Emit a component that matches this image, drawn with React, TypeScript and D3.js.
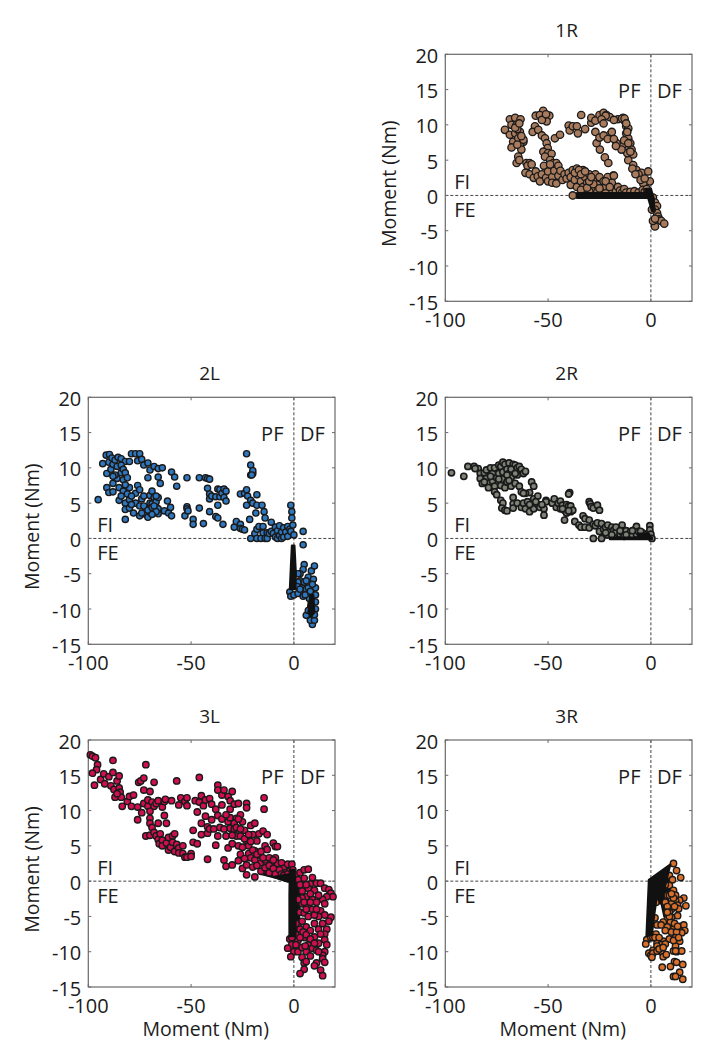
import React from "react";
import * as d3 from "d3";

type P = [number, number];

const xTicks = [-100, -50, 0];
const yTicks = [-15, -10, -5, 0, 5, 10, 15, 20];

const pts1R: P[] = [
[-71,9.3],[-68.6,10.8],[-66,11],[-63.4,10.8],[-67.8,10],[-65.3,10],[-68.6,8.6],[-66,8.8],[-63.7,9],[-67,7.6],[-64.5,8.1],[-62,7.6],[-67.8,6.8],[-63.7,7],[-63,6.5],[-64.5,5.5],[-65.3,4.6],[-64,5],[-60.5,4.6],[-59,4.6],[-62,7.9],[-65,9.4],[-66,9.6],[-64,10.2],[-63,8.4],[-65,7.2],
[-56,11.3],[-52.4,12],[-54,11.4],[-49.4,11.3],[-50.7,10.5],[-53,10.7],[-51,11.5],[-56.4,9.8],[-57.5,9],[-54.8,9.3],[-53,8.5],[-51.5,8.1],[-50.7,7.4],[-50.2,6.7],[-52.3,6.2],[-50,6],[-48.3,5.9],[-51.5,5.5],[-49,5],[-47.5,4.6],[-46,4.6],[-46.7,8.1],[-44.2,8.6],
[-33.9,11.4],[-40,9.9],[-39.5,9.2],[-38,9.8],[-36,9.8],[-35.5,8.8],[-32,9.4],[-29,10.3],[-29,11],[-27,10.6],[-25,11.4],[-23,11.7],[-21.6,11.4],[-20,11.1],[-16,10.8],[-13.5,11],[-12.6,10.5],[-12,9.8],[-12,8.8],[-11,8.1],[-10,7.4],[-9.4,6.5],[-8.6,5.8],[-11,5],[-8.6,4.3],[-7,3.6],[-4.5,3.2],[-1.3,3.4],[-0.5,2],[-3.7,1.7],[-12.5,6.5],[-11.5,6],[-14,7],[-13,7.8],[-11,9.5],[-14,10.9],[-12.8,10.9],[-12,10.2],[-11.5,9],[-11,7.4],[-10,6.2],[-22,11.3],[-24,10.8],[-18,10.7],
[-23,10.2],[-20,8.6],[-19,9],[-16.7,7.4],[-14.3,6.5],[-26.4,7.4],[-24.8,6.5],[-22.4,5.4],[-20.7,4.6],[-18.3,2.8],[-27,9],[-25,8.2],[-23,8.5],[-21,8],[-18,8],[-17,7],[-6,3],[-5,2.2],[-3,2.4],[-9,3.8],[-7.5,3],
[-60,4.2],[-58,4.4],[-61,3.2],[-59,3],[-57,2.5],[-56,3.4],[-55,2.7],[-54,2],[-53,3],[-52,4.2],[-51,2.5],[-50,3.4],[-50,2],[-49,4.4],[-48,2.6],[-48,1.8],[-47,3.5],[-46,1.7],[-45,2.8],[-45,4.2],[-44,3.5],[-43,2.2],[-42,3],[-41,2.4],[-40,3.2],[-39,1.5],[-39,2.6],[-38,3.6],[-37,2.2],[-36,3.8],[-36,1.2],[-35,2.8],[-34,2],[-33,3.6],[-33,1.2],[-32,2.6],[-31,1.8],[-30,3],[-29,1],[-28,2.2],[-27,3],[-26,1.5],[-25,2.6],[-24,0.8],[-23,2],[-22,1.2],[-21,2.6],[-20,0.5],[-19,1.8],[-18,2.8],[-17,0.6],[-16,1.2],[-15,0.7],[-14,0.4],[-13,0.9],[-12,0.4],[-10,0.5],[-8,0.6],[-6,0.4],[-4,0.8],[-3,0.5],[-2,0.9],
[-38,0],[-30,0.6],[-26,0.5],[-22,0.3],[-34,0.8],[-31,1.1],[-28,1.6],[-25,1],[-22,2],[-20,1.2],[-37,3.2],[-35,3.6],[-34,3],[-32,3.4],[-30,2],[-29,2.6],
[1,-0.3],[2,-1],[3,-1.5],[2,-2],[3,-2.5],[3.5,-3],[4,-3.4],[5,-3.6],[6.5,-4],[2,-4.4],[1,-3.6],[2,-3.3],[0.5,-2],
];
const under1R: P[][] = [
[[-38,3.4],[-33,4],[-29,2.8],[-32,1.4],[-38,1.8]],
];
const core1R: P[][] = [
[[-36,0.35],[-1,0.35],[-1,-0.35],[-36,-0.35]],
[[-3,0.9],[0,1],[1.5,-0.5],[1.5,-2.2],[0.5,-2.2],[-1.5,-0.2]],
];

const pts2L: P[] = [
[-95.2,5.5],[-93,10.6],[-91.3,11.8],[-89.7,11.9],[-90,10.8],[-88.5,11.4],[-91,9.2],[-89,9.8],[-88,10.5],[-87,11.1],[-85.5,11.5],[-84,11.3],[-82,10.9],[-80,10.9],[-79,12],[-77,12],[-75,12],[-76,11],[-74,11.2],[-73,10.4],[-71,10.7],[-70,9.7],[-68,10.2],[-66,9.9],[-64,10],[-71,8.6],[-66,8.7],[-65,7.8],
[-91,7.2],[-90,6.5],[-88,7.8],[-88,6.6],[-86,8.5],[-85,7.2],[-85,5.4],[-84,9.3],[-83,8.3],[-83,6.7],[-82,5],[-82,4.1],[-82,2.7],[-81,6.3],[-80,7.2],[-80,5.5],[-80,4.3],[-78,3.6],[-77,5],[-77,6.4],[-76,7.5],[-75,6.9],[-75,4.6],[-75,3.2],[-74,5.6],[-73,6],[-72,4.2],[-72,3.4],[-71,3],[-70,5],[-70,6.1],[-70,3.7],[-69,6.7],[-69,4.9],[-68,3.9],[-68,5.8],[-67,4.5],[-67,5.2],[-66,4.2],[-66,3.5],[-66,5.8],[-67,6],[-63,3.9],[-61.5,5.3],[-61,3.6],[-60,4.4],[-59.5,3.2],
[-86,10.2],[-84,10.4],[-83,9.8],[-82,9.3],[-82,7.6],[-81,8.6],[-84,6],[-79,6],[-79,4.8],[-73,4.6],[-71,4],[-69,4.4],[-68,4.6],[-67,3.8],[-69,3.4],[-74,3.6],[-87,9],[-88,8.8],
[-59.5,9.4],[-58,8.7],[-57,7.4],[-52,8.6],[-46,8.6],[-43,8.6],[-42,8.5],[-41,8.4],[-42,7.1],[-41,6.3],[-41,5.6],[-40,6],[-38,5.9],[-37,7],[-36,6.9],[-36,5.9],[-37,4.7],[-35,6.4],[-34,7],[-33,6.7],[-34,5.8],[-33,5.3],[-46,4.3],[-41,3.8],[-38,3.1],[-37,2.9],[-44,2.1],[-34.5,2],[-52,4.5],[-52,4.2],[-53,3.2],[-49,2.7],[-49,2],[-51.5,3.9],
[-29,1.6],[-28,2.4],[-26,2],[-26,1.4],[-25,1.3],[-24,1.2],[-26,6.3],[-24,6.4],[-23,6.9],[-22.5,6],[-23,4.7],[-21,5.4],[-20,5],[-18,4.7],[-18,6.2],[-15.5,4.7],[-14.5,3.8],[-14,2.9],[-18.5,3.6],[-21.5,2.7],[-23,12],[-21,10.4],[-21,9],[-20,9.2],[-20,9.6],[-20.5,9],
[-21,0],[-19,0.7],[-18,1.3],[-18,0],[-17,1.7],[-16,0],[-15,0.8],[-15,1.7],[-14,0],[-13,0.8],[-13,0],[-12,0.7],[-11,2.3],[-11,1],[-10,0.7],[-9,1.6],[-9,0.2],[-8,1.1],[-8,0],[-7,1.8],[-7,0.4],[-6,0.9],[-6,0],[-5,1.5],[-5,0.2],[-4,0.9],[-3,1.7],[-3,0.3],[-2,1.3],[-1.5,1],
[-1.5,4.7],[-1,3.8],[-1,2.9],[-0.5,1.9],[0,0.5],[4.5,1],[4.5,-0.9],
[-2,-7.6],[-1.5,-8.2],[0,-8],[2,-7.8],[5,-3.7],[4.5,-4.4],[3,-5],[3,-6],[4,-7],[2,-6.2],[5,-6.2],[6,-7.2],[4.5,-8.2],[7,-5.5],[8.5,-4.6],[9.5,-5.8],[10,-3.9],[10.5,-7],[10.5,-8],[9,-12.2],[8,-11.6],[10,-11.6],[6,-10.9],[7.5,-8.5],
[2,-5],[1.5,-6.8],[3,-7.2],[6,-6],[5.5,-8],[7,-7],[8,-7.5],[9,-6.5],[10.5,-9],[10.5,-10],[10,-10.8],[7,-10.2],
];
const under2L: P[][] = [
[[-8,1.2],[-2,1.4],[-0.5,0.5],[-8,0.2]],
[[8,-7],[10,-6.5],[10,-11],[8.5,-11.5],[6.5,-10.5]],
];
const core2L: P[][] = [
[[-1,-1],[0.3,-1],[1,-5],[0.8,-7.2],[-2,-7.2],[-1.5,-4]],
[[8,-8],[9.5,-8],[10,-10.5],[8.5,-11],[7,-10.5]],
];

const pts2R: P[] = [
[-97,9.3],[-91,8.8],[-89,10.2],[-86,10.2],[-84,9.9],[-85.5,9.9],[-83,9.2],[-83,8.5],[-82,7.8],[-81,9.3],[-80,8.5],[-80,9.7],[-79,7.8],[-79,7.2],[-78,10],[-77,9.2],[-77,8.1],[-76,10],[-76,7.4],[-76,6.6],[-75,8.6],[-75,6.2],[-74,10.4],[-74,9.2],[-73,10.2],[-73,7.5],[-72,10.8],[-72,9.4],[-72,8.4],[-71,7.2],[-71,10.5],[-70,9.8],[-70,8],[-69,10.7],[-69,9.2],[-68,7.4],[-68,8.6],[-67,10.5],[-67,9.8],[-66,7.8],[-66,10.4],[-65,9],[-65,10],[-64,7.4],[-64,10.2],[-63,9.8],[-62,9.2],[-61,9.5],
[-73,5.4],[-72,5],[-72.5,4.3],[-71,4],[-70,3.9],[-67,5.8],[-67,4.9],[-67,4.3],[-65,5],[-63,4.4],[-62,5],[-61,4.2],[-60,5.2],[-59,3.8],[-59,6.5],[-58,8],[-57,7.4],[-57,5.6],[-57,4.2],[-55,6],[-55,4.8],[-54,4.4],[-63,6.6],[-61,6.4],[-59,4.8],[-52,4.2],[-52,3.3],[-51,5.4],[-51,5.2],[-48,5],[-47,5.6],[-46,4.4],[-45,5],[-44,4.2],[-44,5.3],[-43,4.7],[-42,4],[-42,2.6],[-41,4.8],[-41,3.6],[-40,4.6],[-39.5,6.5],[-40,6.3],[-39,3.8],[-39,4.6],[-38,4],[-37,2.4],[-35,1.9],[-34,1.6],[-33,3.2],[-32,2.8],[-32,1.6],[-30,2.6],[-30,1.5],[-28,2],
[-70,9],[-68,9.8],[-69,8.2],[-66,9.2],[-74,8.4],[-78,8.8],[-81,8],[-62,6.4],[-56,5.2],[-53,4.8],[-43,4.2],[-40,3.9],
[-30,5.2],[-29.5,4.9],[-29,4.5],[-28,4.3],[-26,4.7],[-25,4],[-28,0],[-27,1.8],[-26,2.2],[-25,1],[-24,0],[-24,2.1],[-23,1.3],[-22,1.6],[-21,0.5],[-21,1.9],[-20,1],[-19,1.6],[-18,0.4],[-18,1.2],[-17,0.9],[-16,1.5],[-15,0.6],[-14,1.9],[-14,0.9],[-13,0.3],[-12,1.1],[-11,0.5],[-10,0.9],[-9,0.4],[-8,1.2],[-7,1.7],[-7,0.6],[-6,1],[-5,0.4],[-4,0.8],[-3,0.5],[-0.5,1.8],[-0.5,1.2],[0,0.6],[0.5,0],
[-22,0.8],[-19,0.5],[-17,1.6],[-15,1.1],[-12,0.5],[-9,1.1],[-5,1],
];
const under2R: P[][] = [
[[-76,10],[-66,10.6],[-62,9.6],[-68,8.6],[-76,8.8]],
[[-24,1.5],[-18,1.2],[-10,1],[-10,0],[-24,0.6]],
];
const core2R: P[][] = [
[[-20,0.15],[0.5,0.15],[0.5,-0.1],[-20,-0.1]],
[[-6,0.7],[-1,0.7],[0.3,0],[-6,0]],
];

const pts3L: P[] = [
[-99,17.9],[-98,17.7],[-96.5,17.5],[-95.5,16.5],[-96,15.8],[-98,15.3],[-97,13.6],[-94,14.4],[-92.5,15.2],[-92,13.8],[-90,14.8],[-89,13.5],[-88,17.1],[-88,15.4],[-87.5,13],[-87,11.9],[-86,14.2],[-85,14.9],[-85,13.2],[-84.5,12.6],[-84,11.9],[-86,12.4],[-83.5,10.6],[-81,11.3],[-80,12],[-79,10.6],[-78,12.2],[-76,10.5],[-76,8.7],[-75.5,14],[-74.5,14.2],[-74,9.7],[-73,11],[-73,14.6],[-73,12.9],[-72,16.5],[-71,10.6],[-71,11.5],[-70,12.7],[-69,11.2],[-68,14],[-68,10.6],[-67,11],[-66,11.4],[-64,10.5],[-63,11.3],[-62.5,11.6],[-63,9.3],[-66,8.2],[-62,8.2],
[-70,9.9],[-70,8.9],[-70,8.2],[-69,7.6],[-72,6.4],[-70,6.5],[-68,6.9],[-67,6.4],[-66,5.9],[-65.5,5.3],[-65,6.7],[-64,5.8],[-64,5],[-62,5.4],[-61,6.2],[-61,4.4],[-60,4.8],[-59,6.4],[-59,5.5],[-58,6.7],[-58,4.2],[-57,5.2],[-56,4.7],[-56,4],[-54,5],[-54,3.9],[-53,3.4],[-52,3.4],[-50,3.9],[-50,3.5],[-49,7.2],[-49,5.5],[-47,5.3],[-42,3.1],
[-59.5,11.4],[-57,14.2],[-56,10.8],[-55,11.8],[-53,11.3],[-52,10.7],[-52,11.8],[-46,14.7],[-48,11.4],[-47,9.8],[-46,11.2],[-45,12.1],[-45,8.2],[-45,6.6],[-44,10.7],[-43,11.5],[-43,9.2],[-42,7.7],[-42,6.8],[-41,11.7],[-41,7.4],[-40,10.9],[-40,8.7],[-39,7.4],[-38,10.2],[-38,5.1],[-37,13.6],[-37,12.9],[-37,9.3],[-37,6.4],[-36,7.6],[-35,8.8],[-35,10.8],[-35,12.2],[-34,12.9],[-34,7.4],[-34,3],[-33,6.4],[-33,2.1],[-32,12],[-32,8.4],[-32,4.7],[-31,11.4],[-31,10.2],[-31,9],[-31,7.5],[-30,12.7],[-30,5.3],[-30,2.3],[-29,10.9],[-29,7.4],[-28,6.4],[-28,8.9],[-27,11],[-27,5],[-27,2.9],[-26,9.4],[-26,6.4],[-26,3.8],[-25,8.4],[-25,4.8],[-25,1.8],[-24,7.2],[-23,11],[-23,10.4],[-23,5.7],[-23,2.3],[-23,0.9],[-22,3.9],[-22,5],[-21,7.9],[-21,3.3],[-20,6.6],[-20,2],[-19,8.2],[-19,4.3],[-19,0.6],[-18,5.7],[-17,6.7],[-17,3.7],[-16,2.6],[-15,7.1],[-15,1.5],[-14.5,11.8],[-14.5,10.2],[-14,5],[-14,3],[-13,1.9],[-13,4.5],[-12,3.3],[-13,6.6],[-11,2.5],[-11,1.4],[-10,5.4],[-9,4.9],[-9,3.3],[-9,1.9],[-8,2.5],[-8,4.9],[-6,2.6],[-5,1.8],[-4,1.2],[-3,2.4],[-2,1.4],[-1,2.4],[-0.5,1.6],
[-29,8.2],[-28,7.6],[-27,8.8],[-24,6],[-24,3.2],[-22,6.6],[-21,5.6],[-20,4.4],[-19,3],[-18,3.8],[-18,2.2],[-16,4.2],[-16,1.4],[-15,3.3],[-14,1.9],[-12,2.2],[-12,1.2],[-10,3],[-10,1.8],[-9,1],[-7,1.6],[-6,1],[-5,0.8],[-3,1],[-33,9.4],[-30,6.5],[-26,7.4],
[1,0.8],[3,1.2],[5,1.6],[7,1.7],[5,0.4],[9,0.5],[8,-0.4],[11,-0.3],[13,-0.3],[7,-1],[10,-1.3],[15,-1],[17,-1.2],[18,-1.7],[19,-2.2],[16,-2.2],[14,-2.6],[12,-2],[6,-2.2],[4,-1.4],[9,-2.6],[11,-3],[15,-3.2],[7,-3.5],[4,-3.2],[3,-4.4],[5,-4.5],[9,-4],[13,-4.2],[15,-4.8],[18,-5.1],[17,-5.7],[12,-5],[7,-5],[10,-6],[14,-6],[4,-5.7],[2,-6.4],[6,-6.5],[8,-7],[12,-6.8],[16,-6.8],[15,-7.5],[10,-7.9],[5,-8],[2,-8.4],[-2,-8.2],[-1,-9],[-3,-9.5],[0,-10],[2,-10],[4,-9.4],[7,-9],[9,-9.5],[12,-8.8],[15,-8.3],[16,-9],[15,-10],[14,-10.5],[6,-10],[-1.5,-10.7],[4,-10.8],[5,-11.6],[6,-11.4],[14,-11],[15,-11.5],[11,-11.6],[10,-12],[5,-12.5],[3,-13.1],[13,-12.6],[14,-13.4],[11,-9.8],
[2,0.2],[3,-0.5],[6,-0.5],[4,-2.4],[2,-2.6],[5,-3],[8,-1.8],[8,-3],[10,-4.8],[6,-4],[11,-4],[3,-6.8],[4.5,-7.2],[6,-7.6],[8,-8.2],[10,-8.8],[13,-7.5],[12,-10],[1,-7.6],[3,-8],[1,-9],[5.5,-9.2],[8,-10.6],[-1,-8],[1,-6],
];
const under3L: P[][] = [
[[-16,1],[-6,2],[-1,2],[-1,0],[-3,0]],
[[0,1],[2,0.8],[3,-2],[2.5,-6],[2,-9],[0,-9]],
];
const core3L: P[][] = [
[[-2,1.6],[0.3,1.6],[1,-1],[0.8,-7.8],[-2.2,-7.8],[-2.2,-2]],
[[-10,0.6],[-2,1],[-1,-0.1],[-3,-0.1]],
];

const pts3R: P[] = [
[11,2.5],[12.5,1.5],[14.5,0.5],[9,0.8],[10.5,0.2],[9,-0.6],[11,-1.3],[12,-2],[16,-2.4],[14,-2.7],[12,-2.8],[2.5,-3],[10,-3.2],[13,-3.4],[17,-3.5],[10,-4],[13.5,-3.9],[9,-4.4],[13,-4.9],[10,-5.1],[2,-5.2],[8,-5.4],[6,-5.8],[9.5,-5.8],[3,-6.2],[5,-6.2],[14.5,-6.4],[16,-6.2],[8,-6.5],[11,-6.8],[16.5,-7],[15,-7.3],[10,-7.2],[12.5,-7.2],[2.5,-7.5],[7,-7],[9,-8.2],[6,-8.5],[12,-8],[14,-8.5],[-2,-8.3],[0,-8],[-2.5,-8.9],[3,-8.8],[5,-9],[7,-8.9],[1,-9.8],[3,-9.2],[5,-10],[11,-9.9],[12.5,-10],[15,-9.9],[12,-9.2],[-1,-10.2],[0,-10.5],[1,-10.2],[6,-10.7],[7.5,-10.4],[0.5,-10.8],[11.5,-11.4],[12.5,-11.5],[15.5,-11.8],[5.5,-12.2],[9.5,-12.1],[14,-12.9],[11,-13.5],[12,-13.5],[15.5,-13.9],[3,-9.9],
[7,-0.5],[8,-2],[7,-3],[9,-2],[11,-2.4],[10,-1.8],[8,-3.6],[11.5,-3.6],[9,-5],[8,-4.4],[1,-8],[2,-8],[4,-8],[11,-8.4],[11.5,-6],[13,-6.4],[13.5,-8],[12,-9.9],[4,-9.6],[6,-9.4],
];
const under3R: P[][] = [
[[6,-0.5],[9,1],[9,-1],[8,-4],[6.5,-5],[5,-3]],
];
const core3R: P[][] = [
[[-1,0.2],[9.5,2.4],[8,0.6],[5.5,-2.5],[4.5,-3.2],[3,-2],[1.8,-4.5],[0.5,-7.6],[-2.2,-7.8]],
];

const colors = { brown: "#a97b5d", blue: "#2f78bf", gray: "#7e8378", crimson: "#cf0f50", orange: "#d86f2b" };

interface Panel { title: string; left: number; top: number; pts: P[]; under: P[][]; core: P[][]; color: string; r: number; sw: number; yLabel: boolean; xLabel: boolean; }

const W = 246.7, H = 247;
const panels: Panel[] = [
  { title: "1R", left: 445.3, top: 54.3, pts: pts1R, under: under1R, core: core1R, color: colors.brown, r: 3.7, sw: 1.3, yLabel: true, xLabel: false },
  { title: "2L", left: 88.3, top: 397.3, pts: pts2L, under: under2L, core: core2L, color: colors.blue, r: 3.1, sw: 1.4, yLabel: true, xLabel: false },
  { title: "2R", left: 445.3, top: 397.3, pts: pts2R, under: under2R, core: core2R, color: colors.gray, r: 3.1, sw: 1.6, yLabel: false, xLabel: false },
  { title: "3L", left: 88.3, top: 740, pts: pts3L, under: under3L, core: core3L, color: colors.crimson, r: 3.2, sw: 1.4, yLabel: true, xLabel: true },
  { title: "3R", left: 445.3, top: 740, pts: pts3R, under: under3R, core: core3R, color: colors.orange, r: 3.2, sw: 1.4, yLabel: false, xLabel: true },
];

const font = "'Open Sans', sans-serif";
const txt = "#1c1c1c";
const axisCol = "#6a6a6a";
const fs = 20;

function PanelView({ p }: { p: Panel }) {
  const x = d3.scaleLinear().domain([-100, 20]).range([0, W]);
  const y = d3.scaleLinear().domain([-15, 20]).range([H, 0]);
  const line = d3.line<P>().x(d => x(d[0])).y(d => y(d[1])).curve(d3.curveLinearClosed);
  const blob = (c: P[], i: number) => (
    <path key={i} d={line(c) || ""} fill="#111" stroke="#111" strokeWidth={2} strokeLinejoin="round" />
  );
  return (
    <g transform={`translate(${p.left},${p.top})`} fontFamily={font} fill={txt}>
      <text x={W / 2 - 2} y={-17} textAnchor="middle" fontSize={19}>{p.title}</text>
      <line x1={x(0)} x2={x(0)} y1={0} y2={H} stroke="#444" strokeWidth={1} strokeDasharray="3 2" />
      <line x1={0} x2={W} y1={y(0)} y2={y(0)} stroke="#444" strokeWidth={1} strokeDasharray="3 2" />
      {xTicks.map(t => (
        <g key={t}>
          <line x1={x(t)} x2={x(t)} y1={H} y2={H - 3} stroke={axisCol} />
          <line x1={x(t)} x2={x(t)} y1={0} y2={3} stroke={axisCol} />
          <text x={x(t)} y={H + 26} textAnchor="middle" fontSize={fs}>{t}</text>
        </g>
      ))}
      {yTicks.map(t => (
        <g key={t}>
          <line x1={0} x2={3} y1={y(t)} y2={y(t)} stroke={axisCol} />
          <line x1={W} x2={W - 3} y1={y(t)} y2={y(t)} stroke={axisCol} />
          <text x={-7} y={y(t) + 8.5} textAnchor="end" fontSize={fs}>{t}</text>
        </g>
      ))}
      <rect x={0} y={0} width={W} height={H} fill="none" stroke={axisCol} strokeWidth={1.2} />
      <text x={x(-10.5)} y={44} textAnchor="middle" fontSize={fs}>PF</text>
      <text x={x(9)} y={44} textAnchor="middle" fontSize={fs}>DF</text>
      <text x={9} y={y(0) - 6} fontSize={fs}>FI</text>
      <text x={9} y={y(0) + 22} fontSize={fs}>FE</text>
      {p.under.map(blob)}
      {p.pts.map((d, i) => (
        <circle key={i} cx={x(d[0])} cy={y(d[1])} r={p.r} fill={p.color} stroke="#1a1a1a" strokeWidth={p.sw} />
      ))}
      {p.core.map(blob)}
      {p.yLabel && (
        <text transform={`translate(${-49},${H / 2 + 6}) rotate(-90)`} textAnchor="middle" fontSize={19.5}>Moment (Nm)</text>
      )}
      {p.xLabel && (
        <text x={W / 2 - 6} y={H + 49} textAnchor="middle" fontSize={19.5}>Moment (Nm)</text>
      )}
    </g>
  );
}

export default function App() {
  return (
    <svg width={723} height={1050} style={{ position: "absolute", left: 0, top: 0, background: "#fff" }}>
      {panels.map(p => <PanelView key={p.title} p={p} />)}
    </svg>
  );
}
